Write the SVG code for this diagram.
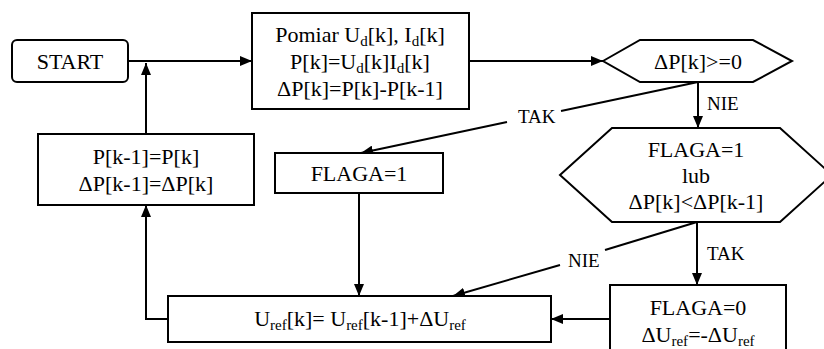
<svg xmlns="http://www.w3.org/2000/svg" width="824" height="349" viewBox="0 0 824 349" font-family="Liberation Serif, DejaVu Serif, serif">
<style>
.box{fill:#fff;stroke:#000;stroke-width:2}
.t{font-size:22px;fill:#000;text-anchor:middle}
.lbl{font-size:19px;fill:#000}
.c{fill:none;stroke:#000;stroke-width:2}
.sub{font-size:15px}
</style>
<defs>
<marker id="ah" markerWidth="12" markerHeight="10" refX="12" refY="5" orient="auto" markerUnits="userSpaceOnUse">
<path d="M0,0 L12,5 L0,10 z" fill="#000"/>
</marker>
</defs>
<rect width="824" height="349" fill="#fff"/>
<g id="connectors">
<path class="c" d="M128,61 H252" marker-end="url(#ah)"/>
<path class="c" d="M469,61 H603" marker-end="url(#ah)"/>
<path class="c" d="M698,82 V128" marker-end="url(#ah)"/>
<path class="c" d="M698,82 L561,111"/>
<path class="c" d="M507,122 L361,153" marker-end="url(#ah)"/>
<path class="c" d="M359,193 V296" marker-end="url(#ah)"/>
<path class="c" d="M697,222 V285" marker-end="url(#ah)"/>
<path class="c" d="M697,222 L605,250"/>
<path class="c" d="M560,265 L453,296" marker-end="url(#ah)"/>
<path class="c" d="M610,319 H551" marker-end="url(#ah)"/>
<path class="c" d="M168,319 H146 V205" marker-end="url(#ah)"/>
<path class="c" d="M146,134 V63" marker-end="url(#ah)"/>
<text class="lbl" font-family="Liberation Serif" x="707" y="110">NIE</text>
<text class="lbl" font-family="Liberation Serif" x="518" y="123">TAK</text>
<text class="lbl" font-family="Liberation Serif" x="568" y="267">NIE</text>
<text class="lbl" font-family="Liberation Serif" x="707" y="260">TAK</text>
</g>
<g id="start">
<rect class="box" x="12" y="40" width="116" height="42" rx="5"/>
<text class="t" font-family="Liberation Serif" x="70" y="69">START</text>
</g>
<g id="pomiar">
<rect class="box" x="252" y="13" width="217" height="96"/>
<text class="t" font-family="Liberation Serif" x="360" y="42">Pomiar U<tspan class="sub" dy="4">d</tspan><tspan dy="-4">[k], I</tspan><tspan class="sub" dy="4">d</tspan><tspan dy="-4">[k]</tspan></text>
<text class="t" font-family="Liberation Serif" x="360" y="69">P[k]=U<tspan class="sub" dy="4">d</tspan><tspan dy="-4">[k]I</tspan><tspan class="sub" dy="4">d</tspan><tspan dy="-4">[k]</tspan></text>
<text class="t" font-family="Liberation Serif" x="360" y="96">ΔP[k]=P[k]-P[k-1]</text>
</g>
<g id="dec1">
<polygon class="box" points="603,61 640,40 753,40 792,61 753,82 640,82"/>
<text class="t" font-family="Liberation Serif" x="698" y="69">ΔP[k]&gt;=0</text>
</g>
<g id="dec2">
<polygon class="box" points="560,175 612,128 780,128 832,175 780,222 612,222"/>
<text class="t" font-family="Liberation Serif" x="696" y="157">FLAGA=1</text>
<text class="t" font-family="Liberation Serif" x="696" y="183">lub</text>
<text class="t" font-family="Liberation Serif" x="696" y="209">ΔP[k]&lt;ΔP[k-1]</text>
</g>
<g id="update">
<rect class="box" x="38" y="134" width="216" height="71"/>
<text class="t" font-family="Liberation Serif" x="146" y="164">P[k-1]=P[k]</text>
<text class="t" font-family="Liberation Serif" x="146" y="191">ΔP[k-1]=ΔP[k]</text>
</g>
<g id="flaga1">
<rect class="box" x="275" y="153" width="168" height="40"/>
<text class="t" font-family="Liberation Serif" x="359" y="181">FLAGA=1</text>
</g>
<g id="uref">
<rect class="box" x="168" y="296" width="383" height="46"/>
<text class="t" font-family="Liberation Serif" x="360" y="326">U<tspan class="sub" dy="4">ref</tspan><tspan dy="-4">[k]= U</tspan><tspan class="sub" dy="4">ref</tspan><tspan dy="-4">[k-1]+ΔU</tspan><tspan class="sub" dy="4">ref</tspan></text>
</g>
<g id="flaga0">
<rect class="box" x="610" y="285" width="176" height="80"/>
<text class="t" font-family="Liberation Serif" x="698" y="315">FLAGA=0</text>
<text class="t" font-family="Liberation Serif" x="698" y="342">ΔU<tspan class="sub" dy="4">ref</tspan><tspan dy="-4">=-ΔU</tspan><tspan class="sub" dy="4">ref</tspan></text>
</g>
</svg>
